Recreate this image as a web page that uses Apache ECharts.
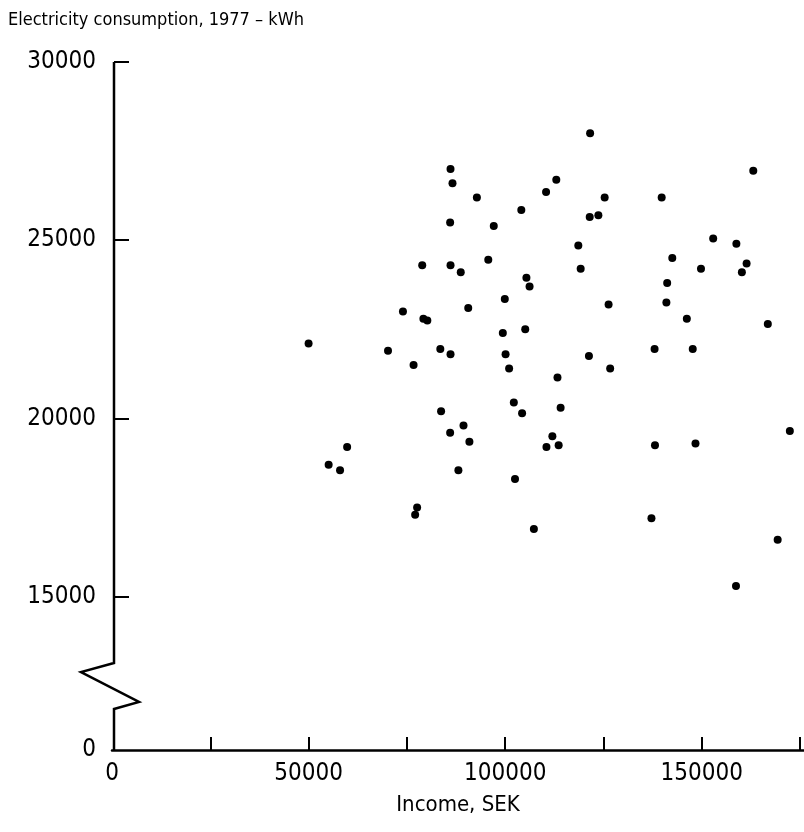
<!DOCTYPE html>
<html>
<head>
<meta charset="utf-8">
<script src="https://cdn.jsdelivr.net/npm/echarts@6/dist/echarts.min.js"></script>
<style>
  html, body { margin: 0; padding: 0; background: #fff; }
  #chart { width: 804px; height: 832px; }
</style>
</head>
<body>
<div id="chart"></div>
<script>
// household income (SEK) and electricity use (kWh), one entry per household
var income = [
  86100, 86600, 86000, 78900, 86100, 88700, 74000, 79200, 80200, 50000,
  70200, 83500, 86100, 76700,
  121600, 113000, 110400, 92800, 125300, 104100, 121500, 123700, 97100, 118600,
  95700, 119200, 105400, 106200, 99900, 90600, 126300, 99400, 105100, 100100,
  121300,
  163100, 139800, 152900, 158800, 142500, 149800, 161400, 160200, 141200, 141000,
  146200, 166800, 138000, 147700,
  83700, 89400, 86000, 59800, 55100, 58000, 88100, 77600, 77100,
  101000, 126700, 113300, 102200, 114100, 104300, 90900, 112000, 110500, 113600,
  102500, 107300,
  172400, 138100, 148400, 137200, 169300, 158700
];
var consumption = [
  27000, 26600, 25500, 24300, 24300, 24100, 23000, 22800, 22750, 22100,
  21900, 21950, 21800, 21500,
  28000, 26700, 26350, 26200, 26200, 25850, 25650, 25700, 25400, 24850,
  24450, 24200, 23950, 23700, 23350, 23100, 23200, 22400, 22500, 21800,
  21750,
  26950, 26200, 25050, 24900, 24500, 24200, 24350, 24100, 23800, 23250,
  22800, 22650, 21950, 21950,
  20200, 19800, 19600, 19200, 18700, 18550, 18550, 17500, 17300,
  21400, 21400, 21150, 20450, 20300, 20150, 19350, 19500, 19200, 19250,
  18300, 16900,
  19650, 19250, 19300, 17200, 16600, 15300
];

var xLabelValues = [0, 50000, 100000, 150000];
var xTickValues = [25000, 50000, 75000, 100000, 125000, 150000, 175000];
var yBase = 10700;   // where the broken axis shows "0"
var yLabelValues = [yBase, 15000, 20000, 25000, 30000];
var yTickValues = [15000, 20000, 25000, 30000];

var points = income.map(function (x, i) { return [x, consumption[i]]; });

var font = '"DejaVu Sans Condensed", "Liberation Sans Narrow", sans-serif';

var myChart = echarts.init(document.getElementById('chart'));

var option = {
    animation: false,
    title: {
        text: 'Electricity consumption, 1977 – kWh',
        left: 3,
        top: 6,
        textStyle: { fontFamily: font, fontSize: 18, fontWeight: 'normal', color: '#000' }
    },
    grid: { left: 112, right: 0, top: 62, bottom: 82, outerBoundsMode: 'none' },
    xAxis: {
        type: 'value',
        min: 0,
        max: 176000,
        name: 'Income, SEK',
        nameLocation: 'middle',
        nameGap: 44,
        nameTextStyle: { fontFamily: font, fontSize: 22, color: '#000' },
        axisLine: { lineStyle: { color: '#000', width: 2.5 } },
        axisTick: { inside: true, length: 13, customValues: xTickValues, lineStyle: { color: '#000', width: 2 } },
        axisLabel: {
            customValues: xLabelValues,
            margin: 12,
            fontFamily: font,
            fontSize: 24,
            color: '#000',
            formatter: function (v) { return String(v); }
        },
        splitLine: { show: false }
    },
    yAxis: {
        type: 'value',
        min: yBase,
        max: 30000,
        offset: -2,
        axisLine: { show: false },
        axisTick: { inside: true, length: 15, customValues: yTickValues, lineStyle: { color: '#000', width: 2 } },
        axisLabel: {
            customValues: yLabelValues,
            margin: 18,
            fontFamily: font,
            fontSize: 24,
            color: '#000',
            formatter: function (v) { return v === yBase ? '0' : String(v); }
        },
        splitLine: { show: false }
    },
    series: [
        {
            type: 'scatter',
            data: points,
            symbolSize: 8,
            itemStyle: { color: '#000', opacity: 1 }
        }
    ]
};

myChart.setOption(option);

// y axis line with a zigzag break between 0 and 15000
var axisTop = myChart.convertToPixel({ gridIndex: 0 }, [0, 30000]);
var axisBottom = myChart.convertToPixel({ gridIndex: 0 }, [0, yBase]);
var ax = axisBottom[0] + 2;
var yb = axisBottom[1];
myChart.setOption({
    graphic: [{
        type: 'polyline',
        shape: {
            points: [
                [ax, axisTop[1]], [ax, yb - 87], [ax - 33, yb - 78],
                [ax + 25, yb - 48], [ax, yb - 41], [ax, yb]
            ]
        },
        style: { stroke: '#000', lineWidth: 2.5, fill: null, lineJoin: 'miter' },
        z: 10
    }]
});
</script>
</body>
</html>
